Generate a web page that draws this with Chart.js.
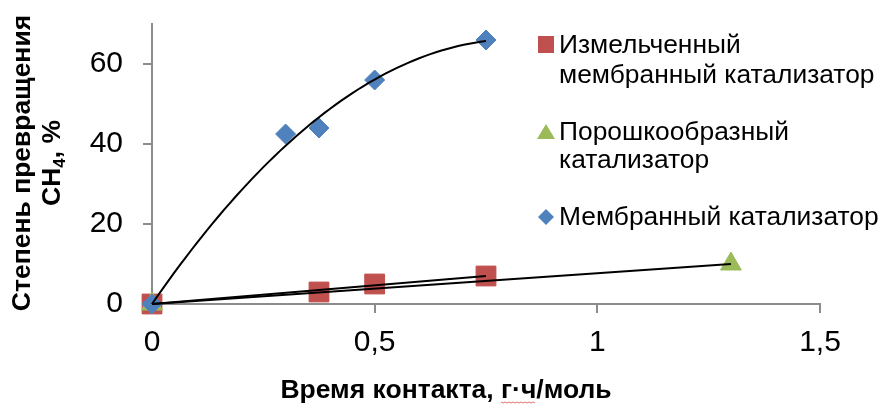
<!DOCTYPE html>
<html>
<head>
<meta charset="utf-8">
<script src="https://cdn.jsdelivr.net/npm/chart.js@4/dist/chart.umd.min.js"></script>
<style>
  html, body { margin: 0; padding: 0; background: #fff; }
  #wrap { width: 882px; height: 405px; }
</style>
</head>
<body>
<div id="wrap"><canvas id="c" width="882" height="405"></canvas></div>
<script>
// Contact time (g·h/mol) and CH4 conversion (%) for each catalyst form
const membraneX = [0, 0.3, 0.375, 0.5, 0.75];
const membraneY = [0, 42.5, 44, 56, 66];
const crushedX  = [0, 0.375, 0.5, 0.75];
const crushedY  = [0, 3, 5, 7];
const powderX   = [0, 1.3];
const powderY   = [0, 10];

const xTicks = [0, 0.5, 1, 1.5];
const yTicks = [0, 20, 40, 60];

const legendCrushed  = ['Измельченный', 'мембранный катализатор'];
const legendPowder   = ['Порошкообразный', 'катализатор'];
const legendMembrane = ['Мембранный катализатор'];

const xTitleHead = 'Время контакта, ';
const xTitleUnit = 'г·ч';
const xTitleTail = '/моль';
const yTitleLine1 = 'Степень превращения';

const RED = '#C0504D', GREEN = '#9BBB59', BLUE = '#4F81BD';
const FONT = '"Liberation Sans", Arial, sans-serif';
const TITLE_FONT = 'bold 26.5px ' + FONT;
const SUB_FONT = 'bold 17px ' + FONT;
const LEGEND_FONT = '26.4px ' + FONT;

const toPoints = (xs, ys) => xs.map((x, i) => ({ x, y: ys[i] }));

// Least-squares fits forced through the origin
function fitLinear0(xs, ys) {
  let sxy = 0, sxx = 0;
  xs.forEach((x, i) => { sxy += x * ys[i]; sxx += x * x; });
  return sxy / sxx;
}
function fitQuad0(xs, ys) {
  let s2 = 0, s3 = 0, s4 = 0, sxy = 0, sx2y = 0;
  xs.forEach((x, i) => {
    s2 += x * x; s3 += x * x * x; s4 += x * x * x * x;
    sxy += x * ys[i]; sx2y += x * x * ys[i];
  });
  const det = s2 * s4 - s3 * s3;
  return [(sxy * s4 - s3 * sx2y) / det, (s2 * sx2y - s3 * sxy) / det];
}
function lineTrend(xs, ys) {
  const k = fitLinear0(xs, ys);
  const xmax = Math.max(...xs);
  return [{ x: 0, y: 0 }, { x: xmax, y: k * xmax }];
}
function quadTrend(xs, ys) {
  const [b, c] = fitQuad0(xs, ys);
  const xmax = Math.max(...xs);
  const pts = [];
  const n = 60;
  for (let i = 0; i <= n; i++) {
    const x = xmax * i / n;
    pts.push({ x, y: b * x + c * x * x });
  }
  return pts;
}

const trendStyle = {
  showLine: true, borderColor: '#000', borderWidth: 2, pointRadius: 0,
  pointHoverRadius: 0, fill: false, tension: 0, clip: false, order: 0
};

// Legend and axis titles drawn onto the chart canvas
const decorations = {
  id: 'decorations',
  afterDraw(chart) {
    const ctx = chart.ctx;
    ctx.save();
    ctx.fillStyle = '#000';

    // Y title (two rotated lines)
    ctx.font = TITLE_FONT;
    ctx.textBaseline = 'middle';
    ctx.textAlign = 'center';
    ctx.save();
    ctx.translate(23, 163);
    ctx.rotate(-Math.PI / 2);
    ctx.fillText(yTitleLine1, 0, 0);
    ctx.restore();

    ctx.save();
    ctx.translate(53, 163);
    ctx.rotate(-Math.PI / 2);
    ctx.textAlign = 'left';
    const partA = 'CH', partB = '4', partC = ', %';
    ctx.font = TITLE_FONT;
    const wA = ctx.measureText(partA).width;
    const wC = ctx.measureText(partC).width;
    ctx.font = SUB_FONT;
    const wB = ctx.measureText(partB).width;
    const x0 = -(wA + wB + wC) / 2;
    ctx.font = TITLE_FONT;
    ctx.fillText(partA, x0, 0);
    ctx.font = SUB_FONT;
    ctx.fillText(partB, x0 + wA, 7);
    ctx.font = TITLE_FONT;
    ctx.fillText(partC, x0 + wA + wB, 0);
    ctx.restore();

    // X title, with the wavy proofing underline under the unit
    ctx.font = TITLE_FONT;
    ctx.textAlign = 'left';
    ctx.textBaseline = 'alphabetic';
    const wHead = ctx.measureText(xTitleHead).width;
    const wUnit = ctx.measureText(xTitleUnit).width;
    const wTail = ctx.measureText(xTitleTail).width;
    const xs = 446 - (wHead + wUnit + wTail) / 2;
    ctx.fillText(xTitleHead + xTitleUnit + xTitleTail, xs, 398);
    ctx.strokeStyle = '#E07070';
    ctx.lineWidth = 1;
    ctx.beginPath();
    const ux0 = xs + wHead, ux1 = ux0 + wUnit;
    for (let ux = ux0, k = 0; ux <= ux1; ux += 2, k++) {
      const uy = 402 + (k % 2 ? 1 : 0);
      if (k === 0) ctx.moveTo(ux, uy); else ctx.lineTo(ux, uy);
    }
    ctx.stroke();

    // Legend
    const lx = 546, tx = 559;
    ctx.font = LEGEND_FONT;
    ctx.textAlign = 'left';
    ctx.textBaseline = 'alphabetic';

    ctx.fillStyle = RED;
    ctx.fillRect(lx - 8, 36, 16, 17);
    ctx.fillStyle = '#000';
    ctx.fillText(legendCrushed[0], tx, 53);
    ctx.fillText(legendCrushed[1], tx, 83);

    ctx.fillStyle = GREEN;
    ctx.beginPath();
    ctx.moveTo(lx, 124);
    ctx.lineTo(lx + 9, 139);
    ctx.lineTo(lx - 9, 139);
    ctx.closePath();
    ctx.fill();
    ctx.fillStyle = '#000';
    ctx.fillText(legendPowder[0], tx, 140);
    ctx.fillText(legendPowder[1], tx, 168);

    ctx.fillStyle = BLUE;
    ctx.beginPath();
    ctx.moveTo(lx, 209);
    ctx.lineTo(lx + 8, 217);
    ctx.lineTo(lx, 225);
    ctx.lineTo(lx - 8, 217);
    ctx.closePath();
    ctx.fill();
    ctx.fillStyle = '#000';
    ctx.fillText(legendMembrane[0], tx, 225);

    ctx.restore();
  }
};

const axisGray = '#8C8C8C';

new Chart(document.getElementById('c'), {
  type: 'scatter',
  data: {
    datasets: [
      Object.assign({ data: quadTrend(membraneX, membraneY) }, trendStyle),
      Object.assign({ data: lineTrend(crushedX, crushedY) }, trendStyle),
      Object.assign({ data: lineTrend(powderX, powderY) }, trendStyle),
      {
        label: legendMembrane.join(' '),
        data: toPoints(membraneX, membraneY),
        pointStyle: 'rectRot', pointRadius: 10, pointHoverRadius: 10,
        backgroundColor: BLUE, borderColor: BLUE, borderWidth: 1,
        clip: false, order: 1
      },
      {
        label: legendPowder.join(' '),
        data: toPoints(powderX, powderY),
        pointStyle: 'triangle', pointRadius: 12, pointHoverRadius: 12,
        backgroundColor: GREEN, borderColor: GREEN, borderWidth: 1,
        clip: false, order: 2
      },
      {
        label: legendCrushed.join(' '),
        data: toPoints(crushedX, crushedY),
        pointStyle: 'rect', pointRadius: 14, pointHoverRadius: 14,
        backgroundColor: RED, borderColor: RED, borderWidth: 1,
        clip: false, order: 3
      }
    ]
  },
  options: {
    responsive: false,
    animation: false,
    events: [],
    layout: { padding: { top: 24, right: 62, left: 0, bottom: 0 } },
    plugins: { legend: { display: false }, tooltip: { enabled: false } },
    scales: {
      x: {
        type: 'linear', min: 0, max: 1.5,
        afterBuildTicks: s => { s.ticks = xTicks.map(v => ({ value: v })); },
        afterFit: s => { s.height = 101; s.paddingLeft = 0; s.paddingRight = 0; },
        ticks: {
          color: '#000', padding: 12,
          font: { family: FONT, size: 30 },
          callback: v => String(v).replace('.', ',')
        },
        grid: { drawOnChartArea: false, drawTicks: true, tickLength: 9, color: axisGray, lineWidth: 2 },
        border: { color: axisGray, width: 2 }
      },
      y: {
        type: 'linear', min: 0, max: 70,
        afterBuildTicks: s => { s.ticks = yTicks.map(v => ({ value: v })); },
        afterFit: s => { s.width = 152; s.paddingTop = 0; s.paddingBottom = 0; },
        ticks: {
          color: '#000', padding: 20,
          font: { family: FONT, size: 30 }
        },
        grid: { drawOnChartArea: false, drawTicks: true, tickLength: 9, color: axisGray, lineWidth: 2 },
        border: { color: axisGray, width: 2 }
      }
    }
  },
  plugins: [decorations]
});
</script>
</body>
</html>
